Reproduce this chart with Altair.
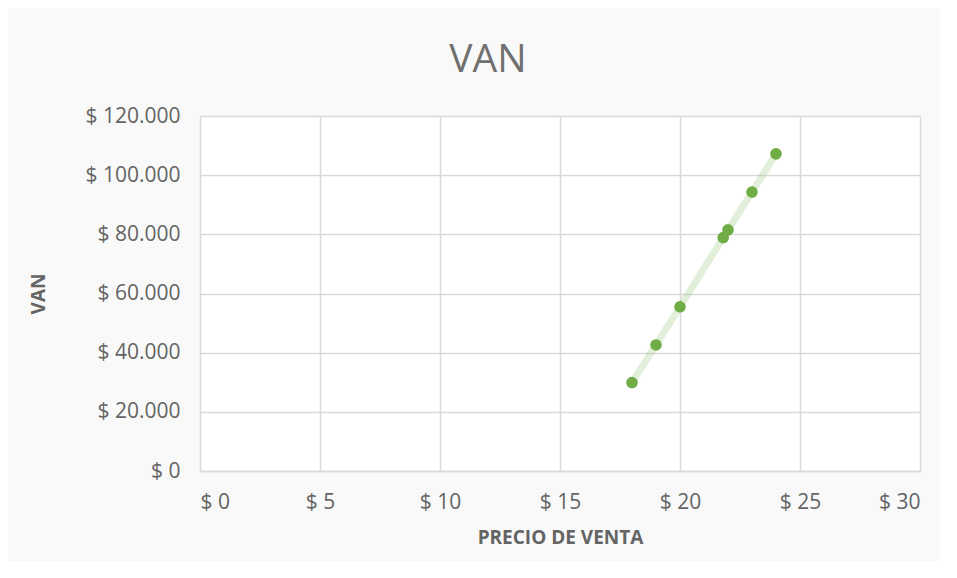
import altair as alt
import pandas as pd

precio = [18, 19, 20, 21.8, 22, 23, 24]
van = [29900, 42600, 55500, 78900, 81500, 94300, 107200]

df = pd.DataFrame({"precio": precio, "van": van})

FONT = "Open Sans"
GRAY = "#646464"
GRID = "#d9d9d9"

x = alt.X("precio:Q",
          scale=alt.Scale(domain=[0, 30], nice=False, zero=True),
          axis=alt.Axis(values=[0, 5, 10, 15, 20, 25, 30],
                        labelExpr="'$ ' + datum.value",
                        title="PRECIO DE VENTA",
                        titleFontWeight="bold", titleFontSize=19,
                        titleColor=GRAY, titlePadding=16,
                        labelFontSize=21, labelColor=GRAY, labelPadding=20,
                        ticks=False, grid=True, gridColor=GRID, gridWidth=1.5,
                        domainColor=GRID, domainWidth=1.5, labelFont=FONT, titleFont=FONT))
y = alt.Y("van:Q",
          scale=alt.Scale(domain=[0, 120000], nice=False),
          axis=alt.Axis(values=[0, 20000, 40000, 60000, 80000, 100000, 120000],
                        labelExpr="'$ ' + replace(format(datum.value, ',.0f'), ',', '.')",
                        title="VAN",
                        titleFontWeight="bold", titleFontSize=19,
                        titleColor=GRAY, titlePadding=36,
                        labelFontSize=21, labelColor=GRAY, labelPadding=20,
                        ticks=False, grid=True, gridColor=GRID, gridWidth=1.5,
                        domain=False, labelFont=FONT, titleFont=FONT))

line = alt.Chart(df).mark_line(color="#70ad47", opacity=0.2, strokeWidth=7, strokeCap="round").encode(
    x=x, y=y, order="precio:Q")
pts = alt.Chart(df).mark_circle(color="#70ad47", size=135, opacity=1).encode(x=x, y=y)

chart = (line + pts).properties(
    width=720, height=355,
    title=alt.TitleParams("VAN", fontSize=39, font=FONT, fontWeight="normal",
                          color="#707070", anchor="middle", dx=-72, offset=25),
    autosize=alt.AutoSizeParams(type="none"),
    padding={"left": 192, "top": 108, "right": 20, "bottom": 90},
    background="#f9f9f9",
).configure_view(fill="white", stroke=None)

chart.save("out.html", embed_options={"renderer": "svg", "actions": False})
